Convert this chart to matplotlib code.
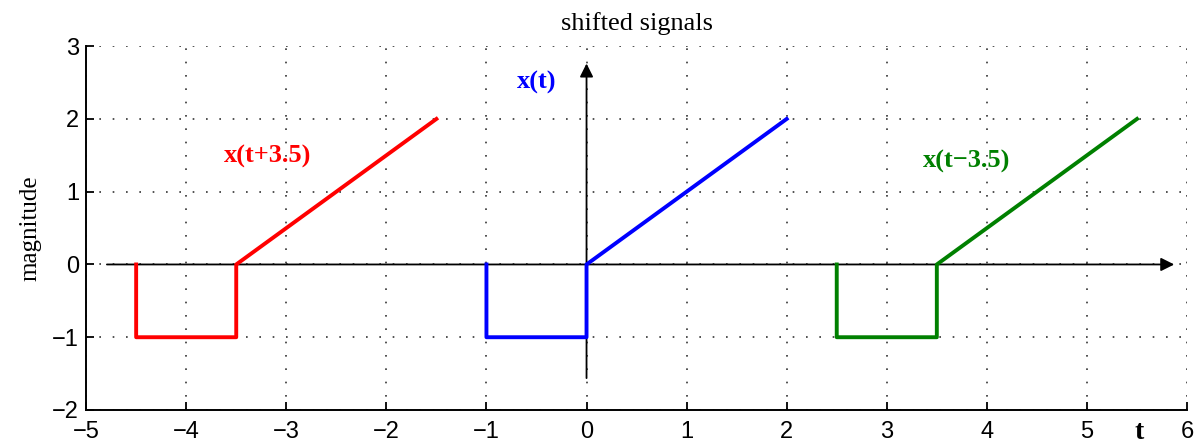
import matplotlib.pyplot as plt
import numpy as np

# base signal x(t): -1 on [-1, 0], ramp 0..2 on [0, 2]
t_base = [-1, -1, 0, 0, 2]
x_base = [0, -1, -1, 0, 2]
shifts = [-3.5, 0, 3.5]
colors = ['#ff0000', '#0000ff', '#008000']
labels = ['x(t+3.5)', 'x(t)', 'x(t\u22123.5)']
label_pos = [(-3.62, 1.49), (-0.7, 2.5), (3.36, 1.42)]

plt.rcParams.update({
    'font.family': 'Liberation Serif',
})

fig = plt.figure(figsize=(11.96, 4.44), dpi=100)
ax = fig.add_axes([0.072, 0.0766, 0.9205, 0.8194])

for s, c in zip(shifts, colors):
    ax.plot(np.array(t_base) + s, x_base, color=c, linewidth=2.8, zorder=3)

for (lx, ly), lab, c in zip(label_pos, labels, colors):
    ax.text(lx, ly, lab, color=c, fontsize=19, fontweight='bold', va='center', ha='left')

# axis arrows
ax.annotate('', xy=(5.9, 0), xytext=(-4.82, 0),
            arrowprops=dict(arrowstyle='-|>', color='black', lw=1.3, mutation_scale=20), zorder=2)
ax.annotate('', xy=(0, 2.8), xytext=(0, -1.6),
            arrowprops=dict(arrowstyle='-|>', color='black', lw=1.3, mutation_scale=20), zorder=2)

ax.text(5.52, -2.14, 't', fontsize=20, fontweight='bold', ha='center', va='top')

ax.set_xlim(-5, 6)
ax.set_ylim(-2, 3)
ax.set_xticks(np.arange(-5, 7))
ax.set_yticks(np.arange(-2, 4))
ax.set_xticklabels([f'\u2212{-v}' if v < 0 else str(v) for v in range(-5, 7)],
                   family='Liberation Sans', fontsize=17)
ax.set_yticklabels([f'\u2212{-v}' if v < 0 else str(v) for v in range(-2, 4)],
                   family='Liberation Sans', fontsize=17)
ax.tick_params(direction='in', length=6, width=1.3)
ax.tick_params(axis='x', pad=8)
ax.tick_params(axis='y', pad=5)
ax.grid(True, linestyle=(0, (1, 7)), color='#333333', linewidth=1.2)
for side in ['top', 'right']:
    ax.spines[side].set_visible(False)
for side in ['left', 'bottom']:
    ax.spines[side].set_linewidth(1.4)

ax.set_title('shifted signals', fontsize=19, pad=12)
ax.set_ylabel('magnitude', fontsize=18, labelpad=8)

fig.savefig('out.png', dpi=100)
